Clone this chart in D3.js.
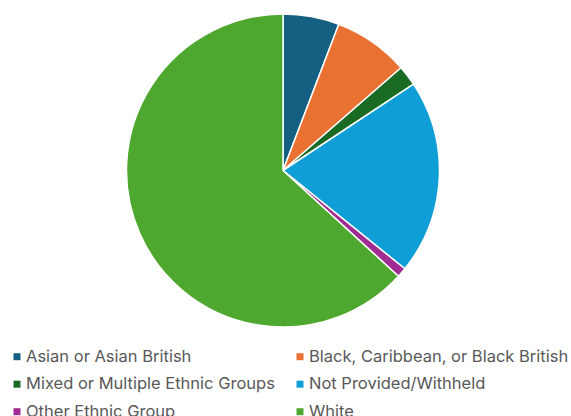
<!DOCTYPE html>
<html>
<head>
<meta charset="utf-8">
<script src="https://cdn.jsdelivr.net/npm/d3@7"></script>
<style>
  html, body { margin: 0; padding: 0; background: #fff; }
  svg { display: block; }
</style>
</head>
<body>
<svg id="chart" width="571" height="416"></svg>
<script>
// Ethnicity breakdown (percent of total)
const categories = [
  "Asian or Asian British",
  "Black, Caribbean, or Black British",
  "Mixed or Multiple Ethnic Groups",
  "Not Provided/Withheld",
  "Other Ethnic Group",
  "White"
];
const values = [5.8, 7.8, 2.1, 20.1, 1.0, 63.2];
const colors = ["#156082", "#E97132", "#196B24", "#0F9ED5", "#A02B93", "#4EA72E"];

const svg = d3.select("#chart");
const cx = 283, cy = 170.5, radius = 156.5;

const pie = d3.pie().sort(null).value(d => d.value);
const arc = d3.arc().innerRadius(0).outerRadius(radius);
const data = categories.map((c, i) => ({ name: c, value: values[i], color: colors[i] }));

svg.append("g")
  .attr("transform", `translate(${cx},${cy})`)
  .selectAll("path")
  .data(pie(data))
  .join("path")
  .attr("d", arc)
  .attr("fill", d => d.data.color)
  .attr("stroke", "#fff")
  .attr("stroke-width", 1.5)
  .attr("stroke-linejoin", "round");

// Legend: two columns, three rows
const colX = [13.5, 296.5];
const rowY = [361.5, 389, 416.5];
const legend = svg.append("g").attr("class", "legend");
data.forEach((d, i) => {
  const col = i % 2, row = Math.floor(i / 2);
  const g = legend.append("g").attr("transform", `translate(${colX[col]},${rowY[row]})`);
  g.append("rect")
    .attr("x", 0).attr("y", -8.3)
    .attr("width", 7).attr("height", 7)
    .attr("fill", d.color);
  g.append("text")
    .attr("x", 12.5).attr("y", 0)
    .attr("font-family", "Inter, 'Open Sans', sans-serif")
    .attr("font-size", 16.5)
    .attr("fill", "#595959")
    .text(d.name);
});
</script>
</body>
</html>
